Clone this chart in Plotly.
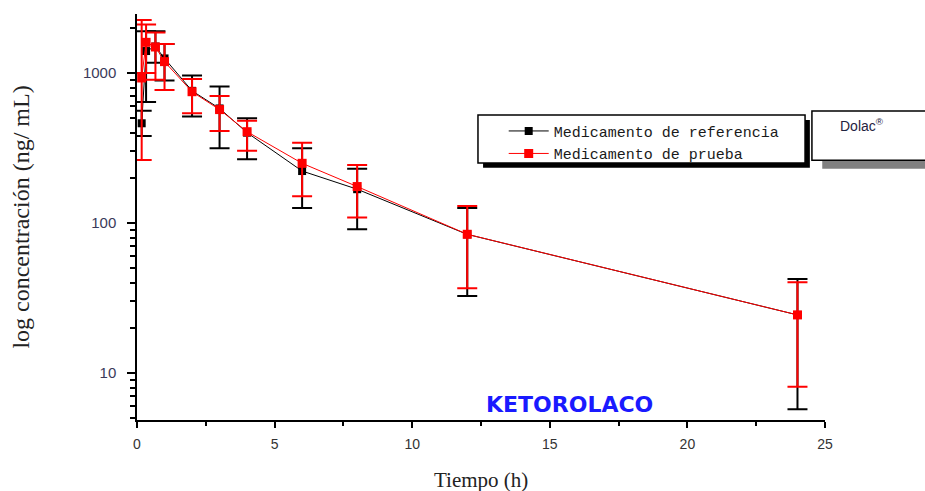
import plotly.graph_objects as go

# ---- data ----
times = [0.17, 0.33, 0.67, 1, 2, 3, 4, 6, 8, 12, 24]

ref_mean = [462, 1400, 1500, 1250, 760, 580, 400, 222, 168, 84, 24.4]
ref_upper = [560, 1900, 1900, 1560, 960, 811, 499, 315, 230, 126, 42.4]
ref_lower = [380, 640, 1170, 890, 512, 315, 266, 126, 91, 32.6, 5.73]

test_mean = [926, 1600, 1490, 1190, 750, 570, 406, 250, 175, 84.1, 24.4]
test_upper = [2250, 2100, 1860, 1560, 912, 703, 481, 343, 244, 130, 40.3]
test_lower = [263, 1000, 900, 770, 538, 411, 303, 151, 109, 36.7, 8.1]

x_ticks = [0, 5, 10, 15, 20, 25]
y_ticks = [10, 100, 1000]
y_ticktext = ["10", "100", "1000"]

name_ref = "Medicamento de referencia"
name_test = "Medicamento de prueba"


def plus(u, m):
    return [a - b for a, b in zip(u, m)]


def minus(m, l):
    return [a - b for a, b in zip(m, l)]


fig = go.Figure()

fig.add_trace(go.Scatter(
    x=times, y=ref_mean, name=name_ref, mode="lines+markers",
    line=dict(color="black", width=1),
    marker=dict(symbol="square", size=8, color="black"),
    error_y=dict(type="data", symmetric=False,
                 array=plus(ref_upper, ref_mean),
                 arrayminus=minus(ref_mean, ref_lower),
                 color="black", thickness=2, width=10),
))
fig.add_trace(go.Scatter(
    x=times, y=test_mean, name=name_test, mode="lines+markers",
    line=dict(color="#ff0000", width=1),
    marker=dict(symbol="square", size=9, color="#ff0000"),
    error_y=dict(type="data", symmetric=False,
                 array=plus(test_upper, test_mean),
                 arrayminus=minus(test_mean, test_lower),
                 color="#ff0000", thickness=2, width=10),
))

minor_y = [m * 10 ** e for e in range(0, 4) for m in range(2, 10)]

fig.update_layout(
    width=925, height=491,
    margin=dict(l=137, r=100, t=14, b=71),
    paper_bgcolor="white", plot_bgcolor="white",
    showlegend=True,
    legend=dict(x=0.533, y=0.752, xanchor="left", yanchor="top",
                bgcolor="rgba(0,0,0,0)", borderwidth=0,
                font=dict(family="Liberation Mono", size=15, color="#1a1a1a"),
                itemwidth=40, tracegroupgap=0),
    xaxis=dict(range=[0, 25], tickvals=x_ticks, showgrid=False, zeroline=False,
               showline=True, linecolor="black", linewidth=1.5,
               ticks="outside", ticklen=6, tickwidth=1.5, tickcolor="black",
               ticklabelstandoff=4, automargin=False,
               minor=dict(dtick=2.5, ticks="outside", ticklen=4, tickwidth=1.5,
                          tickcolor="black", showgrid=False),
               tickfont=dict(family="Liberation Sans", size=14, color="#333333")),
    yaxis=dict(type="log", range=[0.687, 3.393], tickvals=y_ticks, ticktext=y_ticktext,
               showgrid=False, zeroline=False,
               showline=True, linecolor="black", linewidth=1.5,
               ticks="outside", ticklen=8, tickwidth=1.5, tickcolor="black",
               ticklabelstandoff=8,
               minor=dict(tickvals=minor_y, ticks="outside", ticklen=5, tickwidth=1.5,
                          tickcolor="black", showgrid=False),
               tickfont=dict(family="Liberation Sans", size=15, color="#3a3a5a"),
               title=dict(text="log concentración (ng/ mL)", standoff=46,
                          font=dict(family="Liberation Serif", size=24, color="#222222"))),
    shapes=[
        # legend shadow and box
        dict(type="rect", xref="paper", yref="paper", x0=0.503, x1=0.978, y0=0.621, y1=0.739,
             fillcolor="black", line=dict(width=0), layer="above"),
        dict(type="rect", xref="paper", yref="paper", x0=0.4956, x1=0.971, y0=0.633, y1=0.751,
             fillcolor="white", line=dict(color="black", width=1.5), layer="above"),
        # Dolac box shadow and box
        dict(type="rect", xref="paper", yref="paper", x0=0.996, x1=1.2, y0=0.619, y1=0.645,
             fillcolor="#808080", line=dict(width=0), layer="above"),
        dict(type="rect", xref="paper", yref="paper", x0=0.981, x1=1.2, y0=0.640, y1=0.761,
             fillcolor="white", line=dict(color="black", width=1.5), layer="above"),
    ],
    annotations=[
        dict(text="Tiempo (h)", xref="paper", yref="paper", x=0.5, y=-0.148,
             xanchor="center", yanchor="middle", showarrow=False,
             font=dict(family="Liberation Serif", size=21, color="#222222")),
        dict(text="Dolac<sup>®</sup>", xref="paper", yref="paper", x=1.054, y=0.727,
             xanchor="center", yanchor="middle", showarrow=False,
             font=dict(family="Liberation Sans", size=14, color="#1f2340")),
        dict(text="<b>KETOROLACO</b>", xref="paper", yref="paper", x=0.629, y=0.037,
             xanchor="center", yanchor="middle", showarrow=False,
             font=dict(family="DejaVu Sans", size=22, color="#1a1aff")),
    ],
)

fig.write_html("out.html")
